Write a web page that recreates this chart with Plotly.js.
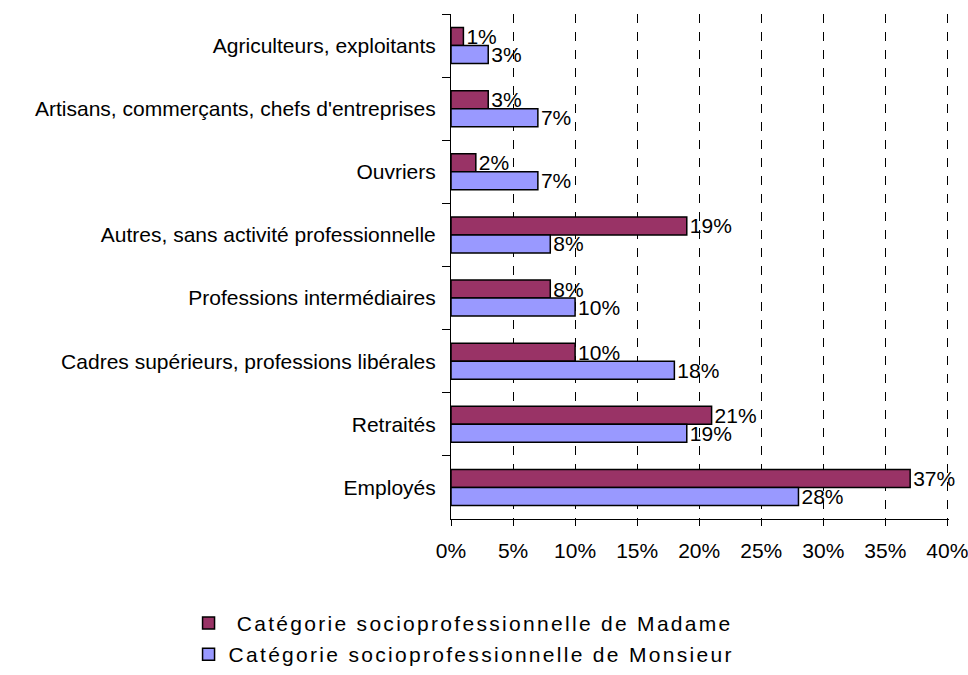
<!DOCTYPE html>
<html>
<head>
<meta charset="utf-8">
<script src="https://cdn.plot.ly/plotly-3.0.1.min.js"></script>
<style>
html,body{margin:0;padding:0;background:#fff;}
#chart{width:968px;height:675px;}
.legendtext{letter-spacing:2.3px;}
</style>
</head>
<body>
<div id="chart"></div>
<script>
const categories = [
  "Agriculteurs, exploitants",
  "Artisans, commerçants, chefs d'entreprises",
  "Ouvriers",
  "Autres, sans activité professionnelle",
  "Professions intermédiaires",
  "Cadres supérieurs, professions libérales",
  "Retraités",
  "Employés"
];
const madame = [1, 3, 2, 19, 8, 10, 21, 37];
const monsieur = [3, 7, 7, 8, 10, 18, 19, 28];
const seriesNames = [
  " Catégorie socioprofessionnelle de Madame",
  "Catégorie socioprofessionnelle de Monsieur"
];

const font = {family: "Liberation Sans, Arial, sans-serif", size: 21, color: "#000"};

function trace(vals, name, color, grp) {
  return {
    type: "bar", orientation: "h", y: categories, x: vals, name: name,
    legendgroup: grp,
    marker: {color: color, line: {color: "#000", width: 1.5}},
    text: vals.map(v => v + "%"), textposition: "outside", cliponaxis: false,
    constraintext: "none",
    textfont: font, hoverinfo: "none"
  };
}

const data = [
  trace(madame, seriesNames[0], "#993366", "a"),
  trace(monsieur, seriesNames[1], "#9999FF", "b")
];

const layout = {
  width: 968, height: 675,
  margin: {l: 451, r: 19, t: 14, b: 156, autoexpand: false},
  paper_bgcolor: "#fff", plot_bgcolor: "#fff",
  font: font,
  barmode: "group", bargap: 0.43, bargroupgap: 0,
  showlegend: true,
  legend: {
    x: -0.527, xanchor: "left", y: -0.166, yanchor: "top",
    orientation: "v", traceorder: "grouped", font: font,
    bgcolor: "rgba(0,0,0,0)", itemwidth: 30, tracegroupgap: 1
  },
  xaxis: {
    range: [0, 40.13], dtick: 5, tick0: 0, ticksuffix: "%",
    showgrid: true, gridcolor: "#000", griddash: "dash", gridwidth: 1,
    zeroline: false, showline: true, linecolor: "#000", linewidth: 1,
    ticks: "outside", ticklen: 6, tickcolor: "#000",
    ticklabelstandoff: 7, ticklabeloverflow: "allow",
    tickfont: font, fixedrange: true
  },
  yaxis: {
    autorange: "reversed", type: "category",
    showline: true, linecolor: "#000", linewidth: 1,
    ticks: "outside", ticklen: 8, tickcolor: "#000", tickson: "boundaries",
    showgrid: false, tickfont: font, ticklabelstandoff: 10, fixedrange: true
  }
};

Plotly.newPlot("chart", data, layout, {staticPlot: true, displayModeBar: false});
</script>
</body>
</html>
